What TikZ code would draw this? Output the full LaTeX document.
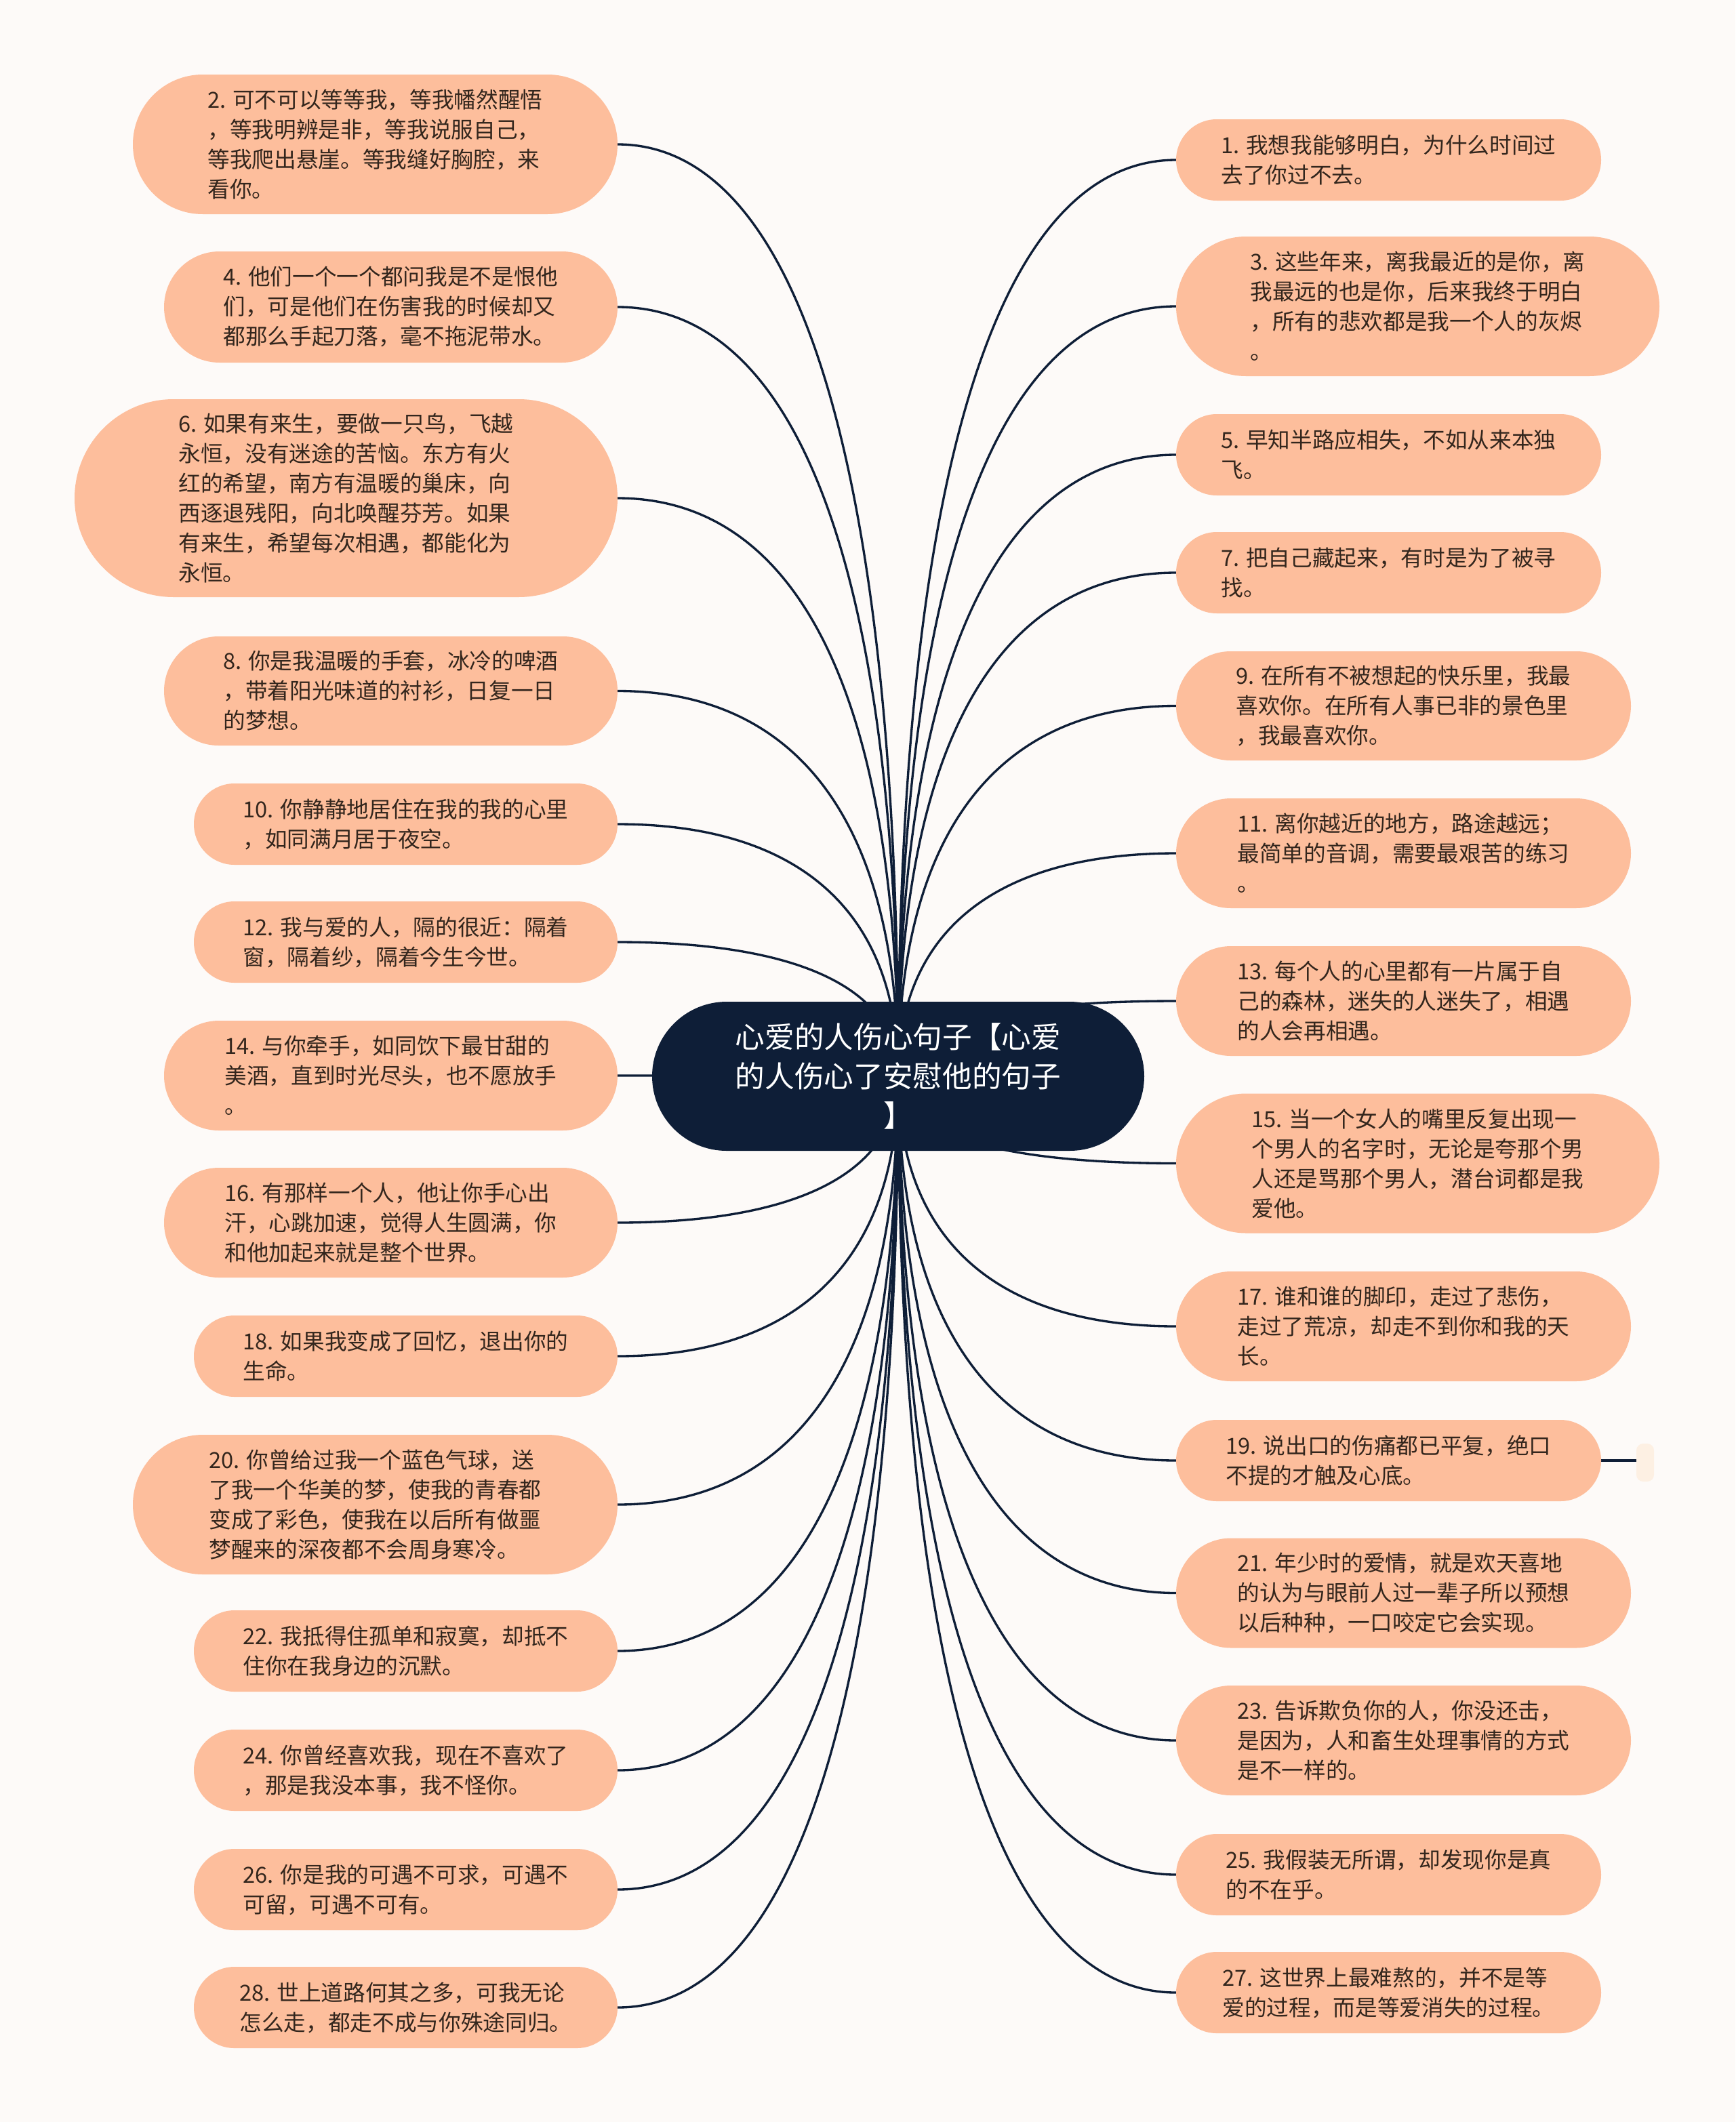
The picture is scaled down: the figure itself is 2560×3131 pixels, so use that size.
\documentclass[tikz,border=0pt]{standalone}
\usepackage{fontspec}
\setmainfont{Noto Sans CJK SC}
\usetikzlibrary{shapes.misc,calc}
\definecolor{pagebg}{HTML}{FDFAF8}
\definecolor{leaffill}{HTML}{FDBE9C}
\definecolor{navy}{HTML}{0E1E37}
\definecolor{leafink}{HTML}{33261D}
\definecolor{tipfill}{HTML}{FDF0E3}
\pgfdeclarelayer{bg}
\pgfdeclarelayer{lines}
\pgfsetlayers{bg,lines,main}
\newcommand\leaffont{\fontsize{9.8pt}{13.2pt}\selectfont}
\newcommand\titlefont{\fontsize{13.1pt}{17.4pt}\selectfont}
\tikzset{
  leafshape/.style={rounded rectangle, fill=leaffill, draw=none, inner sep=0pt, outer sep=0pt},
  leaftext/.style={align=left, text=leafink, font=\leaffont, inner sep=0pt},
  centershape/.style={rounded rectangle, fill=navy, draw=none, inner sep=0pt, outer sep=0pt},
  titletext/.style={align=center, text=white, font=\titlefont, inner sep=0pt},
  conn/.style={draw=navy, line width=1pt},
  tipbox/.style={rectangle, rounded corners=3pt, fill=tipfill, draw=none, inner sep=0pt, outer sep=0pt}
}
\newcommand\leaf[6]{%
  \node[leafshape, minimum width=#4*0.3pt, minimum height=#5*0.3pt] (#1) at (#2,#3) {};
  \node[leaftext] (#1t) at (#1.center) {#6};
}
\newcommand\linkto[2]{%
  \draw[conn] (c.center) .. controls ($(c.center)!0.65!(c.center|-#1.#2)$) and ($(#1.#2)!0.65!(c.center|-#1.#2)$) .. (#1.#2);
}
\begin{document}
\begin{tikzpicture}[x=0.3pt,y=-0.3pt]
\begin{pgfonlayer}{bg}
\fill[pagebg] (0,0) rectangle (2560,3131);
\end{pgfonlayer}
\useasboundingbox (0,0) rectangle (2560,3131);

% central node
\node[centershape, minimum width=726*0.3pt, minimum height=220*0.3pt] (c) at (1325,1588) {};
\node[titletext] (ct) at (c.center) {心爱的人伤心句子【心爱\\的人伤心了安慰他的句子\\】};

% left leaves
\leaf{l2}{553.5}{213}{715}{206}{2. 可不可以等等我，等我幡然醒悟\\，等我明辨是非，等我说服自己，\\等我爬出悬崖。等我缝好胸腔，来\\看你。}
\leaf{l4}{576.5}{453}{669}{164}{4. 他们一个一个都问我是不是恨他\\们，可是他们在伤害我的时候却又\\都那么手起刀落，毫不拖泥带水。}
\leaf{l6}{510.5}{735}{801}{292}{6. 如果有来生，要做一只鸟，飞越\\永恒，没有迷途的苦恼。东方有火\\红的希望，南方有温暖的巢床，向\\西逐退残阳，向北唤醒芬芳。如果\\有来生，希望每次相遇，都能化为\\永恒。}
\leaf{l8}{576.5}{1019.5}{669}{161}{8. 你是我温暖的手套，冰冷的啤酒\\，带着阳光味道的衬衫，日复一日\\的梦想。}
\leaf{l10}{598.5}{1216}{625}{120}{10. 你静静地居住在我的我的心里\\，如同满月居于夜空。}
\leaf{l12}{598.5}{1390}{625}{120}{12. 我与爱的人，隔的很近：隔着\\窗，隔着纱，隔着今生今世。}
\leaf{l14}{576.5}{1587}{669}{162}{14. 与你牵手，如同饮下最甘甜的\\美酒，直到时光尽头，也不愿放手\\。}
\leaf{l16}{576.5}{1804}{669}{162}{16. 有那样一个人，他让你手心出\\汗，心跳加速，觉得人生圆满，你\\和他加起来就是整个世界。}
\leaf{l18}{598.5}{2001}{625}{120}{18. 如果我变成了回忆，退出你的\\生命。}
\leaf{l20}{553.5}{2220}{715}{206}{20. 你曾给过我一个蓝色气球，送\\了我一个华美的梦，使我的青春都\\变成了彩色，使我在以后所有做噩\\梦醒来的深夜都不会周身寒冷。}
\leaf{l22}{598.5}{2436}{625}{120}{22. 我抵得住孤单和寂寞，却抵不\\住你在我身边的沉默。}
\leaf{l24}{598.5}{2612}{625}{120}{24. 你曾经喜欢我，现在不喜欢了\\，那是我没本事，我不怪你。}
\leaf{l26}{598.5}{2788}{625}{120}{26. 你是我的可遇不可求，可遇不\\可留，可遇不可有。}
\leaf{l28}{598.5}{2962}{625}{120}{28. 世上道路何其之多，可我无论\\怎么走，都走不成与你殊途同归。}

% right leaves
\leaf{r1}{2048.5}{236}{627}{120}{1. 我想我能够明白，为什么时间过\\去了你过不去。}
\leaf{r3}{2091.5}{452}{713}{206}{3. 这些年来，离我最近的是你，离\\我最远的也是你，后来我终于明白\\，所有的悲欢都是我一个人的灰烬\\。}
\leaf{r5}{2048.5}{671}{627}{120}{5. 早知半路应相失，不如从来本独\\飞。}
\leaf{r7}{2048.5}{845}{627}{120}{7. 把自己藏起来，有时是为了被寻\\找。}
\leaf{r9}{2070.5}{1041.5}{671}{161}{9. 在所有不被想起的快乐里，我最\\喜欢你。在所有人事已非的景色里\\，我最喜欢你。}
\leaf{r11}{2070.5}{1259}{671}{162}{11. 离你越近的地方，路途越远；\\最简单的音调，需要最艰苦的练习\\。}
\leaf{r13}{2070.5}{1477}{671}{162}{13. 每个人的心里都有一片属于自\\己的森林，迷失的人迷失了，相遇\\的人会再相遇。}
\leaf{r15}{2091.5}{1716.5}{713}{206}{15. 当一个女人的嘴里反复出现一\\个男人的名字时，无论是夸那个男\\人还是骂那个男人，潜台词都是我\\爱他。}
\leaf{r17}{2070.5}{1957}{671}{162}{17. 谁和谁的脚印，走过了悲伤，\\走过了荒凉，却走不到你和我的天\\长。}
\leaf{r19}{2048.5}{2155}{627}{120}{19. 说出口的伤痛都已平复，绝口\\不提的才触及心底。}
\leaf{r21}{2070.5}{2350.5}{671}{162}{21. 年少时的爱情，就是欢天喜地\\的认为与眼前人过一辈子所以预想\\以后种种，一口咬定它会实现。}
\leaf{r23}{2070.5}{2568}{671}{162}{23. 告诉欺负你的人，你没还击，\\是因为，人和畜生处理事情的方式\\是不一样的。}
\leaf{r25}{2048.5}{2766}{627}{120}{25. 我假装无所谓，却发现你是真\\的不在乎。}
\leaf{r27}{2048.5}{2940}{627}{120}{27. 这世界上最难熬的，并不是等\\爱的过程，而是等爱消失的过程。}

% small tip node beside 19
\node[tipbox, minimum width=26*0.3pt, minimum height=56*0.3pt] (s19) at (2427,2158) {};

\begin{pgfonlayer}{lines}
\foreach \n in {l2,l4,l6,l8,l10,l12,l14,l16,l18,l20,l22,l24,l26,l28} {\linkto{\n}{east}}
\foreach \n in {r1,r3,r5,r7,r9,r11,r13,r15,r17,r19,r21,r23,r25,r27} {\linkto{\n}{west}}
\draw[conn] (r19.east) -- (r19.east -| s19.west);
\end{pgfonlayer}
\end{tikzpicture}
\end{document}
